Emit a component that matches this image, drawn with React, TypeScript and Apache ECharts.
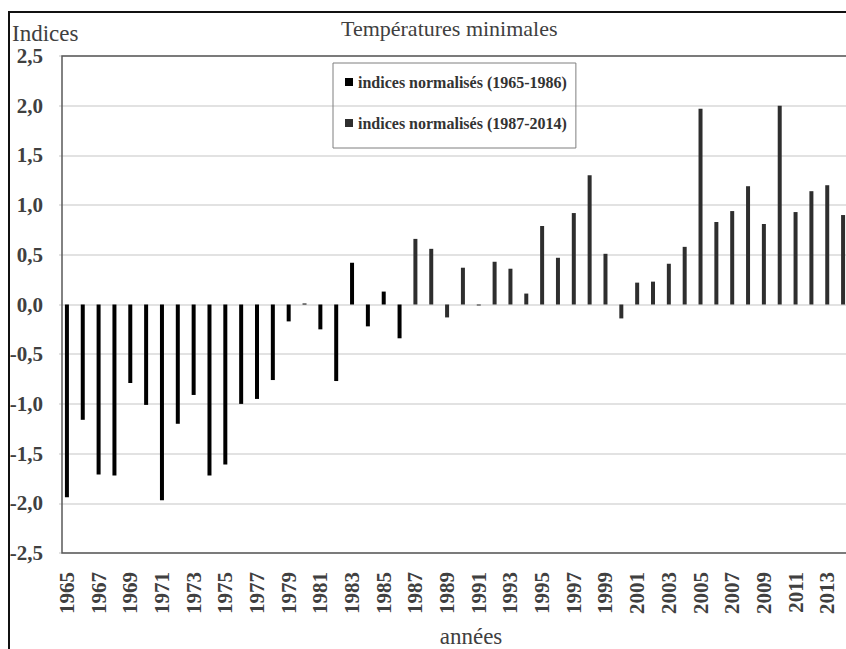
import { useEffect, useRef } from "react";
import * as echarts from "echarts";

const years = [
  "1965", "1966", "1967", "1968", "1969", "1970", "1971", "1972", "1973", "1974",
  "1975", "1976", "1977", "1978", "1979", "1980", "1981", "1982", "1983", "1984",
  "1985", "1986", "1987", "1988", "1989", "1990", "1991", "1992", "1993", "1994",
  "1995", "1996", "1997", "1998", "1999", "2000", "2001", "2002", "2003", "2004",
  "2005", "2006", "2007", "2008", "2009", "2010", "2011", "2012", "2013", "2014",
];

// 1965-1986
const valuesPeriod1 = [
  -1.94, -1.16, -1.71, -1.72, -0.79, -1.01, -1.97, -1.2, -0.91, -1.72,
  -1.61, -1.0, -0.95, -0.76, -0.17, 0.01, -0.25, -0.77, 0.42, -0.22,
  0.13, -0.34,
];

// 1987-2014
const valuesPeriod2 = [
  0.66, 0.56, -0.13, 0.37, -0.01, 0.43, 0.36, 0.11, 0.79, 0.47,
  0.92, 1.3, 0.51, -0.14, 0.22, 0.23, 0.41, 0.58, 1.97, 0.83,
  0.94, 1.19, 0.81, 2.0, 0.93, 1.14, 1.2, 0.9,
];

const seriesNames = ["indices normalisés (1965-1986)", "indices normalisés (1987-2014)"];
const titleText = "Températures minimales";
const yAxisTitle = "Indices";
const xAxisTitle = "années";

const FONT = "'Liberation Serif', 'Times New Roman', serif";

export default function App() {
  const ref = useRef<HTMLDivElement>(null);

  useEffect(() => {
    if (!ref.current) return;
    const chart = echarts.init(ref.current, undefined, { renderer: "svg" });

    const data1 = years.map((_, i) => (i < valuesPeriod1.length ? valuesPeriod1[i] : null));
    const data2 = years.map((_, i) =>
      i >= valuesPeriod1.length ? valuesPeriod2[i - valuesPeriod1.length] : null
    );

    chart.setOption({
      animation: false,
      backgroundColor: "#ffffff",
      textStyle: { fontFamily: FONT },
      title: [
        {
          text: titleText,
          left: 341,
          top: 17,
          padding: 0,
          textStyle: { fontFamily: FONT, fontSize: 22, fontWeight: "normal", color: "#404040" },
        },
        {
          text: yAxisTitle,
          left: 12,
          top: 22,
          padding: 0,
          textStyle: { fontFamily: FONT, fontSize: 23, fontWeight: "normal", color: "#404040" },
        },
      ],
      legend: {
        orient: "vertical",
        left: 333,
        top: 63,
        padding: [9, 9, 15, 12],
        itemGap: 21,
        itemWidth: 8,
        itemHeight: 8,
        borderColor: "#7f7f7f",
        borderWidth: 1,
        icon: "rect",
        data: seriesNames,
        textStyle: {
          fontFamily: FONT,
          fontSize: 16,
          fontWeight: "bold",
          color: "#333333",
          lineHeight: 20,
        },
      },
      grid: {
        left: 59,
        top: 56,
        width: 792,
        bottom: 96,
        show: false,
      },
      xAxis: {
        type: "category",
        data: years,
        boundaryGap: true,
        axisLine: { show: false },
        axisTick: { show: false },
        axisLabel: {
          interval: 1,
          rotate: 90,
          margin: 19,
          fontFamily: FONT,
          fontSize: 21,
          fontWeight: "bold",
          color: "#404040",
        },
        splitLine: { show: false },
      },
      yAxis: {
        type: "value",
        min: -2.5,
        max: 2.5,
        interval: 0.5,
        axisLine: { show: false },
        axisTick: { show: false },
        axisLabel: {
          margin: 16,
          fontFamily: FONT,
          fontSize: 21,
          fontWeight: "bold",
          color: "#404040",
          formatter: (v: number) => v.toFixed(1).replace(".", ","),
        },
        splitLine: { show: true, lineStyle: { color: "#d9d9d9", width: 1.5 } },
      },
      series: [
        {
          name: seriesNames[0],
          type: "bar",
          data: data1,
          barWidth: 4,
          barGap: "-100%",
          itemStyle: { color: "#000000" },
        },
        {
          name: seriesNames[1],
          type: "bar",
          data: data2,
          barWidth: 4,
          barGap: "-100%",
          itemStyle: { color: "#2e2e2e" },
        },
      ],
      graphic: [
        {
          type: "rect",
          silent: true,
          z: 100,
          shape: { x: 62, y: 56, width: 820, height: 497 },
          style: { fill: "none", stroke: "#595959", lineWidth: 1.5 },
        },
        {
          type: "rect",
          silent: true,
          z: 100,
          shape: { x: 9, y: 12, width: 900, height: 700 },
          style: { fill: "none", stroke: "#111111", lineWidth: 2 },
        },
        {
          type: "text",
          silent: true,
          x: 471,
          y: 636,
          style: {
            text: xAxisTitle,
            fontFamily: FONT,
            fontSize: 23,
            fill: "#404040",
            textAlign: "center",
            textVerticalAlign: "middle",
          },
        },
      ],
    });

    return () => chart.dispose();
  }, []);

  return (
    <div
      style={{
        position: "absolute",
        left: 0,
        top: 0,
        width: 846,
        height: 649,
        overflow: "hidden",
        background: "#ffffff",
      }}
    >
      <div ref={ref} style={{ width: 870, height: 649 }} />
    </div>
  );
}
